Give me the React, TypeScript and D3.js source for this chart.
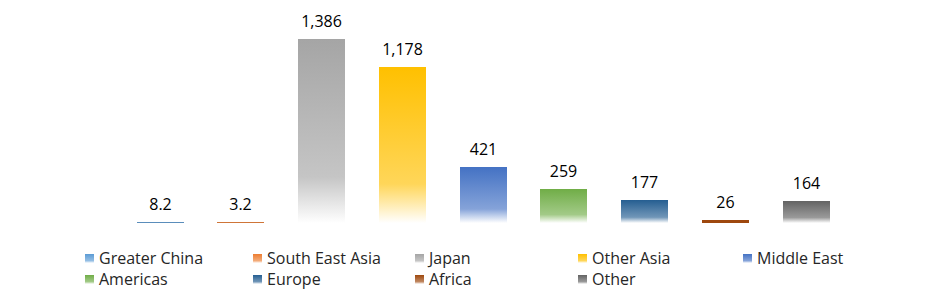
import React from "react";
import * as d3 from "d3";

const categories = ["Greater China", "South East Asia", "Japan", "Other Asia", "Middle East", "Americas", "Europe", "Africa", "Other"];
const values = [8.2, 3.2, 1386, 1178, 421, 259, 177, 26, 164];
const labels = ["8.2", "3.2", "1,386", "1,178", "421", "259", "177", "26", "164"];
const colors = ["#5B9BD5", "#ED7D31", "#A5A5A5", "#FFC000", "#4472C4", "#70AD47", "#255E91", "#9E480E", "#636363"];
const legendCols = [85, 253, 415, 578, 743];

const W = 947, H = 301;
const FONT = "'Open Sans', sans-serif";

export default function App() {
  const x = d3.scaleBand<string>().domain(categories).range([119.6, 846.4]).paddingInner(0.42).paddingOuter(0.21);
  const y = d3.scaleLinear().domain([0, 1386]).range([223, 39]);
  const tint = (c: string, t: number) => d3.interpolateRgb(c, "#ffffff")(t);
  return (
    <svg width={W} height={H} style={{ position: "absolute", left: 0, top: 0, fontFamily: FONT }}>
      <defs>
        {colors.map((c, i) => (
          <linearGradient key={i} id={`g${i}`} x1="0" y1="0" x2="0" y2="1">
            <stop offset="0" stopColor={c} />
            <stop offset="0.75" stopColor={tint(c, 0.35)} />
            <stop offset="1" stopColor="#ffffff" />
          </linearGradient>
        ))}
      </defs>
      <rect width={W} height={H} fill="#fff" />
      {categories.map((cat, i) => {
        const bx = Math.round(x(cat)!);
        const bw = Math.round(x.bandwidth());
        const top = y(values[i]);
        const h = Math.max(Math.round(y(0) - top), 1);
        return (
          <g key={cat}>
            <rect x={bx} y={y(0) - h} width={bw} height={h}
              fill={h < 2 ? d3.interpolateRgb(colors[i], "#555")(0.2) : h < 5 ? colors[i] : `url(#g${i})`} />
            <text x={bx + bw / 2} y={y(0) - h - 12} textAnchor="middle" fontSize={16} fill="#000">{labels[i]}</text>
          </g>
        );
      })}
      {categories.map((cat, i) => {
        const col = i % 5, row = Math.floor(i / 5);
        const lx = legendCols[col];
        const ly = 254 + row * 21;
        return (
          <g key={"l" + cat}>
            <rect x={lx} y={ly} width={9} height={9} fill={`url(#g${i})`} />
            <text x={lx + 14} y={ly + 10} fontSize={16} fill="#262626">{cat}</text>
          </g>
        );
      })}
    </svg>
  );
}
